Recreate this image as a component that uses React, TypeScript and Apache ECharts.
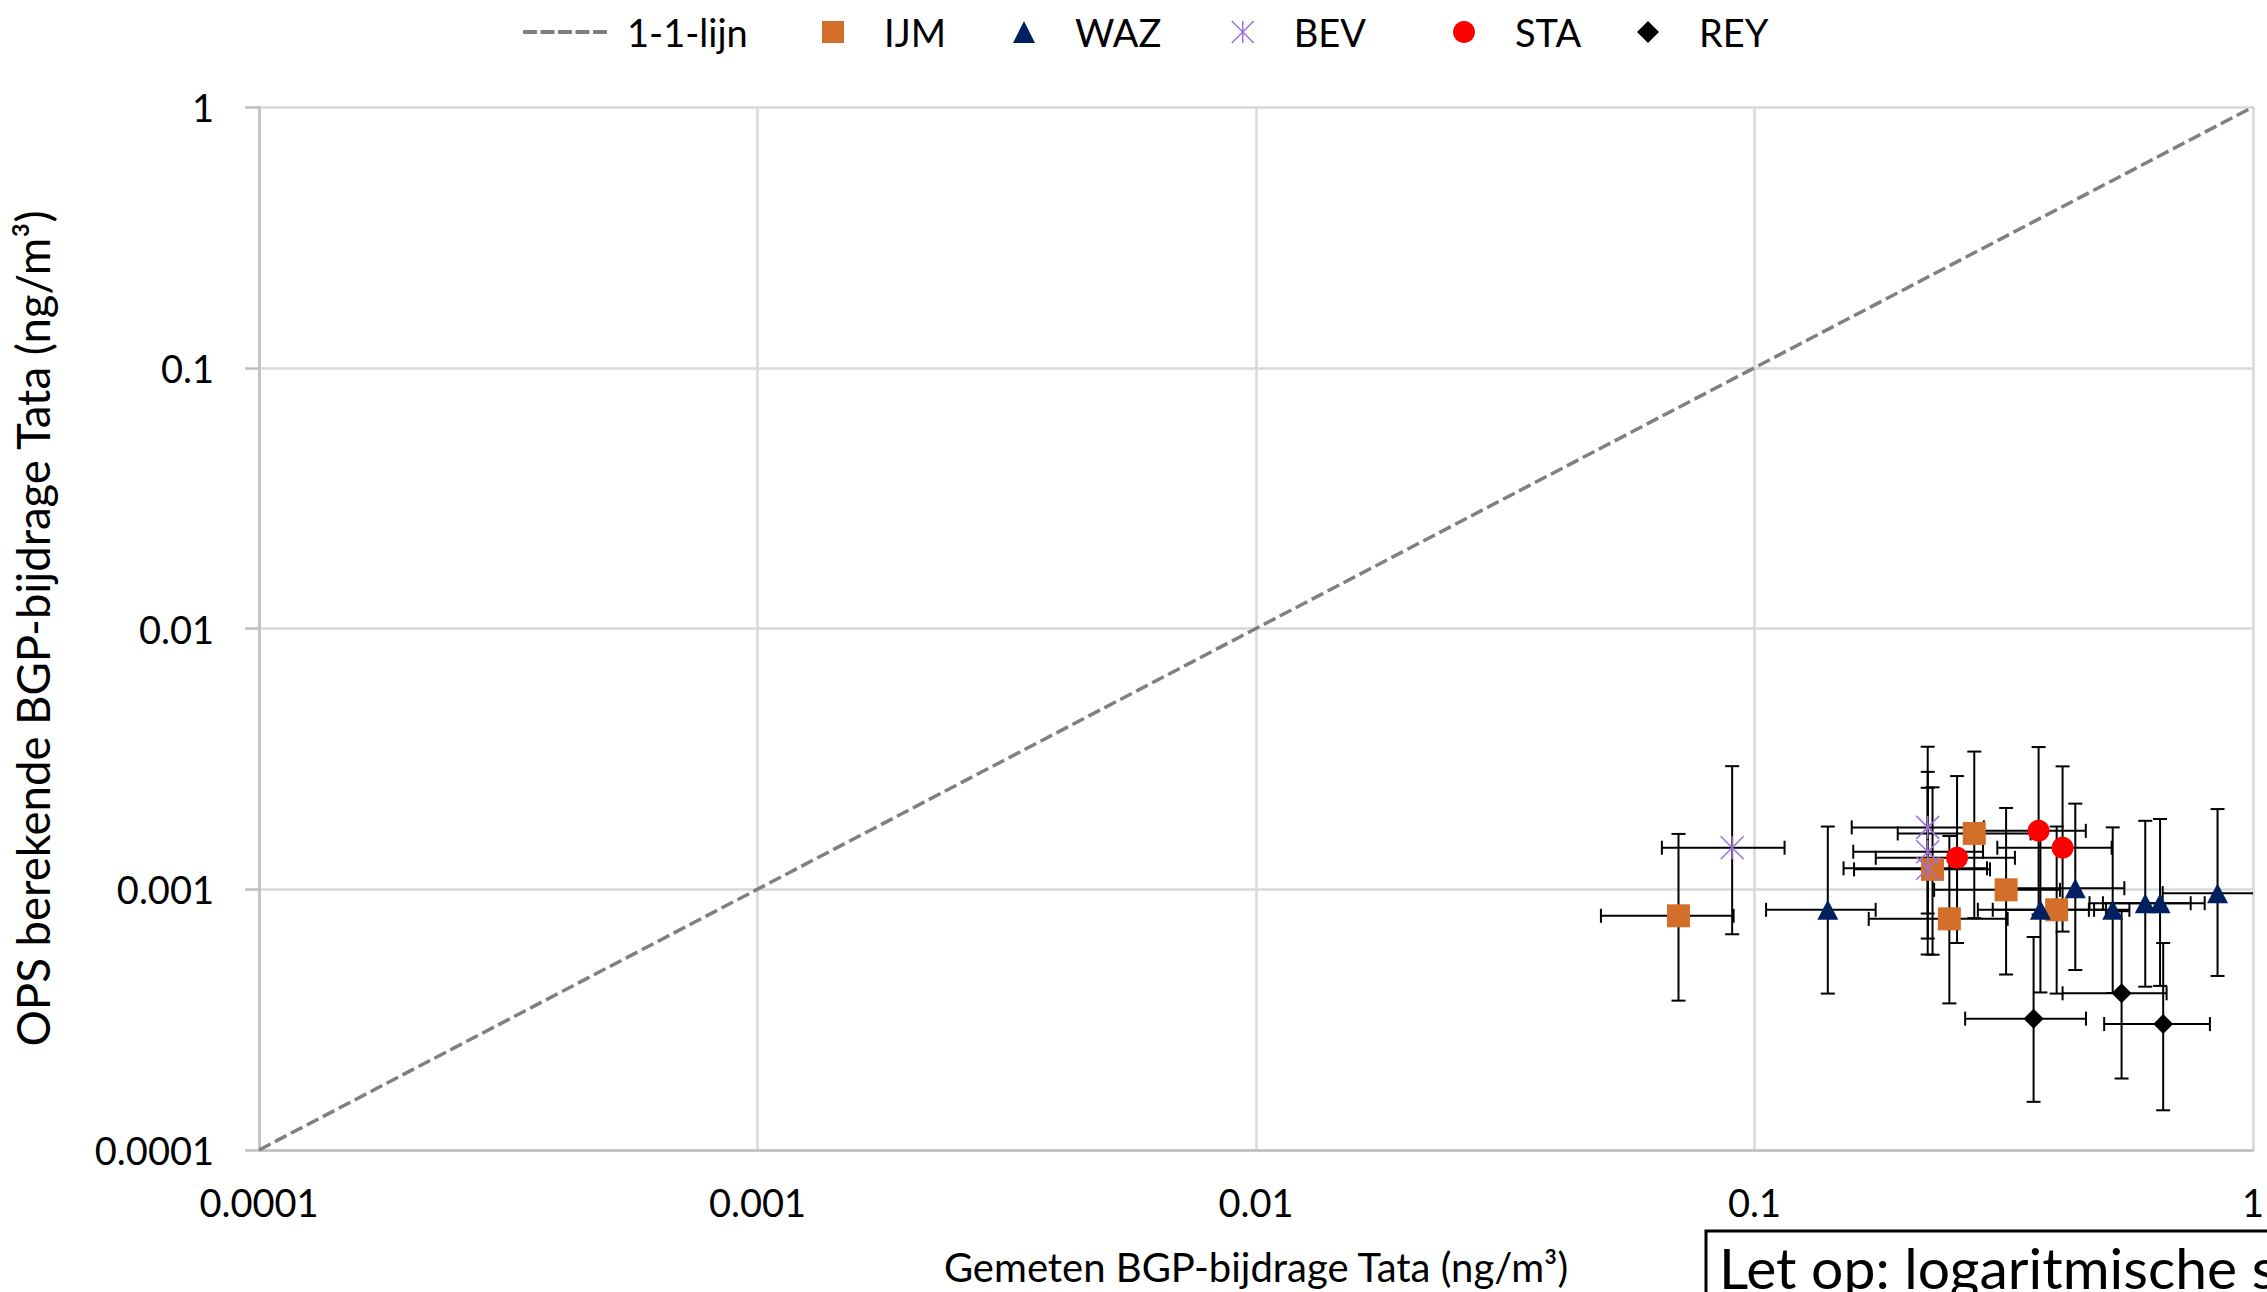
import React, { useEffect, useRef } from 'react';
import * as echarts from 'echarts';

const FONT = 'Lato, "Open Sans", sans-serif';

const TICK_LABELS = ['0.0001', '0.001', '0.01', '0.1', '1'];
const LEGEND_NAMES = ['IJM', 'WAZ', 'BEV', 'STA', 'REY'];
const LEGEND_LEFT = [817, 1008, 1226, 1448, 1632];
const LINE_1_1 = [[0.0001, 0.0001], [1, 1]];

// rows: [x, y, xLow, xHigh, yLow, yHigh]
const IJM = [
  [0.0704, 0.000791, 0.0492, 0.0908, 0.000374, 0.00163],
  [0.2276, 0.001192, 0.1584, 0.2968, 0.000561, 0.00246],
  [0.276, 0.001637, 0.1938, 0.358, 0.000775, 0.003373],
  [0.3197, 0.000995, 0.2293, 0.41, 0.000471, 0.00205],
  [0.246, 0.00077, 0.1695, 0.322, 0.000365, 0.0016],
  [0.4038, 0.000834, 0.3006, 0.507, 0.000398, 0.00174],
];
const WAZ = [
  [0.1403, 0.000834, 0.1055, 0.175, 0.000398, 0.00174],
  [0.3746, 0.000834, 0.2806, 0.4686, 0.000402, 0.0017],
  [0.4401, 0.001009, 0.328, 0.552, 0.00049, 0.00213],
  [0.5231, 0.000834, 0.48, 0.565, 0.0004, 0.001727],
  [0.608, 0.000884, 0.47, 0.75, 0.000423, 0.00183],
  [0.651, 0.000884, 0.5, 0.8, 0.000426, 0.00186],
  [0.849, 0.000966, 0.659, 1.039, 0.000465, 0.00203],
];
const BEV = [
  [0.0902, 0.001443, 0.0652, 0.1149, 0.000672, 0.002965],
  [0.2226, 0.001727, 0.1567, 0.2885, 0.000807, 0.00352],
  [0.2226, 0.001393, 0.1578, 0.2874, 0.000647, 0.00282],
  [0.2226, 0.001203, 0.1509, 0.2927, 0.000562, 0.00245],
];
const STA = [
  [0.3715, 0.001675, 0.283, 0.462, 0.0008, 0.00351],
  [0.415, 0.001443, 0.307, 0.5206, 0.000688, 0.00296],
  [0.2549, 0.00132, 0.1751, 0.333, 0.000622, 0.002717],
];
const REY = [
  [0.363, 0.000319, 0.2646, 0.4624, 0.000153, 0.000656],
  [0.545, 0.000399, 0.415, 0.671, 0.000188, 0.000824],
  [0.6605, 0.000304, 0.5029, 0.8196, 0.000142, 0.000622],
];

const COLORS: Record<string, string> = {
  IJM: '#D46F2B',
  WAZ: '#002060',
  BEV: '#9C72D9',
  STA: '#FF0000',
  REY: '#000000',
};

const ASTERISK = 'path://M0,0L20,20M20,0L0,20M10,0L10,20';

function tickFormatter(v: number) {
  const i = Math.round(Math.log10(v)) + 4;
  return TICK_LABELS[i] ?? String(v);
}

export default function App() {
  const ref = useRef<HTMLDivElement>(null);

  useEffect(() => {
    document.body.style.margin = '0';
    const chart = echarts.init(ref.current!, null, { renderer: 'svg' });

    const allRows = [...IJM, ...WAZ, ...BEV, ...STA, ...REY];
    const xy = (rows: number[][]) => rows.map((r) => [r[0], r[1]]);

    const errStyle = { stroke: '#000', lineWidth: 2 };
    const cap = 7;
    const legendText = { fontFamily: FONT, fontSize: 38, color: '#000' };

    const markerLegends = LEGEND_NAMES.map((n, i) => ({
      data: [
        n === 'BEV'
          ? { name: n, itemStyle: { color: 'transparent', borderColor: COLORS.BEV, borderWidth: 1.5 } }
          : { name: n },
      ],
      left: LEGEND_LEFT[i],
      top: 8,
      itemWidth: 22,
      itemHeight: 22,
      selectedMode: false,
      textStyle: { ...legendText, padding: [0, 0, 0, 35] },
    }));

    const option: any = {
      animation: false,
      backgroundColor: '#ffffff',
      textStyle: { fontFamily: FONT },
      grid: { left: 259, right: 13, top: 107, bottom: 137, containLabel: false },
      legend: [
        {
          data: [
            {
              name: '1-1-lijn',
              itemStyle: { color: 'transparent', borderWidth: 0, opacity: 0 },
              lineStyle: { color: '#808080', width: 4, type: [14, 3.5] },
            },
          ],
          left: 516,
          top: 8,
          itemWidth: 85,
          itemHeight: 22,
          selectedMode: false,
          textStyle: { ...legendText, padding: [0, 0, 0, 14] },
        },
        ...markerLegends,
      ],
      xAxis: {
        type: 'log',
        logBase: 10,
        min: 0.0001,
        max: 1,
        name: 'Gemeten BGP-bijdrage Tata (ng/m³)',
        nameLocation: 'middle',
        nameGap: 97,
        nameTextStyle: { fontFamily: FONT, fontSize: 40, color: '#000' },
        axisLine: { show: true, lineStyle: { color: '#BFBFBF', width: 2.5 } },
        axisTick: { show: false },
        splitLine: { show: true, lineStyle: { color: '#D9D9D9', width: 2.5 } },
        axisLabel: { formatter: tickFormatter, fontFamily: FONT, fontSize: 38, color: '#000', margin: 33 },
      },
      yAxis: {
        type: 'log',
        logBase: 10,
        min: 0.0001,
        max: 1,
        name: 'OPS berekende BGP-bijdrage Tata (ng/m³)',
        nameLocation: 'middle',
        nameGap: 204,
        nameTextStyle: { fontFamily: FONT, fontSize: 45.5, color: '#000' },
        axisLine: { show: true, lineStyle: { color: '#BFBFBF', width: 2.5 } },
        axisTick: { show: true, length: 14, lineStyle: { color: '#BFBFBF', width: 2.5 } },
        splitLine: { show: true, lineStyle: { color: '#D9D9D9', width: 2.5 } },
        axisLabel: { formatter: tickFormatter, fontFamily: FONT, fontSize: 38, color: '#000', margin: 45 },
      },
      graphic: [
        {
          type: 'rect',
          z: 100,
          shape: { x: 1706, y: 1231, width: 800, height: 200 },
          style: { fill: '#ffffff', stroke: '#000000', lineWidth: 3 },
        },
        {
          type: 'text',
          z: 101,
          x: 1719,
          y: 1267,
          style: {
            text: 'Let op: logaritmische schaal',
            fill: '#000000',
            fontFamily: FONT,
            fontSize: 57,
            align: 'left',
            verticalAlign: 'middle',
          },
        },
      ],
      series: [
        {
          name: '1-1-lijn',
          type: 'line',
          data: LINE_1_1,
          symbol: 'none',
          showSymbol: false,
          z: 2,
          lineStyle: { color: '#808080', width: 3.5, type: [13, 5] },
          itemStyle: { color: '#808080' },
        },
        {
          name: 'errorbars',
          type: 'custom',
          z: 3,
          clip: true,
          data: allRows,
          encode: { x: 0, y: 1 },
          renderItem: (params: any, api: any) => {
            const x = api.value(0);
            const y = api.value(1);
            const l = api.coord([api.value(2), y]);
            const r = api.coord([api.value(3), y]);
            const t = api.coord([x, api.value(5)]);
            const b = api.coord([x, api.value(4)]);
            return {
              type: 'group',
              children: [
                { type: 'line', shape: { x1: l[0], y1: l[1], x2: r[0], y2: r[1] }, style: errStyle },
                { type: 'line', shape: { x1: l[0], y1: l[1] - cap, x2: l[0], y2: l[1] + cap }, style: errStyle },
                { type: 'line', shape: { x1: r[0], y1: r[1] - cap, x2: r[0], y2: r[1] + cap }, style: errStyle },
                { type: 'line', shape: { x1: t[0], y1: t[1], x2: b[0], y2: b[1] }, style: errStyle },
                { type: 'line', shape: { x1: t[0] - cap, y1: t[1], x2: t[0] + cap, y2: t[1] }, style: errStyle },
                { type: 'line', shape: { x1: b[0] - cap, y1: b[1], x2: b[0] + cap, y2: b[1] }, style: errStyle },
              ],
            };
          },
        },
        {
          name: 'IJM',
          type: 'scatter',
          z: 4,
          symbol: 'rect',
          symbolSize: 23,
          data: xy(IJM),
          itemStyle: { color: COLORS.IJM, opacity: 1 },
        },
        {
          name: 'WAZ',
          type: 'scatter',
          z: 5,
          symbol: 'triangle',
          symbolSize: [21, 20],
          data: xy(WAZ),
          itemStyle: { color: COLORS.WAZ, opacity: 1 },
        },
        {
          name: 'BEV',
          type: 'scatter',
          z: 6,
          symbol: ASTERISK,
          symbolSize: 23,
          data: xy(BEV),
          itemStyle: { color: 'transparent', borderColor: COLORS.BEV, borderWidth: 1.5, opacity: 1 },
        },
        {
          name: 'STA',
          type: 'scatter',
          z: 7,
          symbol: 'circle',
          symbolSize: 22,
          data: xy(STA),
          itemStyle: { color: COLORS.STA, opacity: 1 },
        },
        {
          name: 'REY',
          type: 'scatter',
          z: 8,
          symbol: 'diamond',
          symbolSize: 20,
          data: xy(REY),
          itemStyle: { color: COLORS.REY, opacity: 1 },
        },
      ],
    };

    chart.setOption(option);
    return () => chart.dispose();
  }, []);

  return (
    <div
      ref={ref}
      style={{ position: 'fixed', left: 0, top: 0, width: 2267, height: 1292, background: '#fff' }}
    />
  );
}
